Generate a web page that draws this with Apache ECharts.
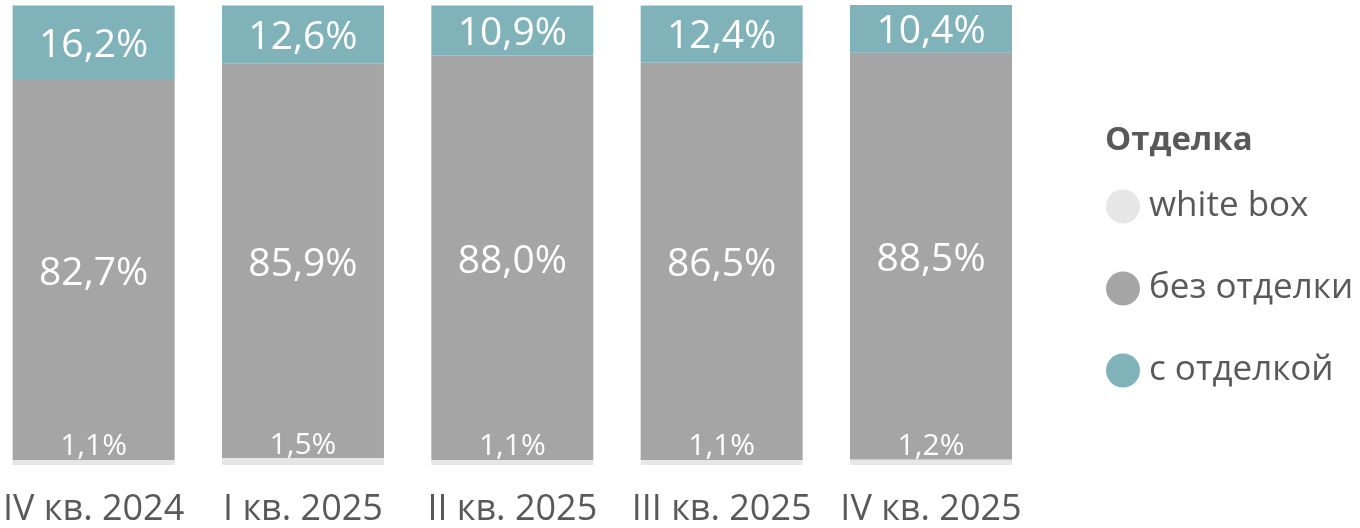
<!DOCTYPE html>
<html><head><meta charset="utf-8">
<script src="https://cdn.jsdelivr.net/npm/echarts@6/dist/echarts.min.js"></script>
<style>html,body{margin:0;padding:0;background:#fff}#c{width:1360px;height:528px}</style>
</head><body><div id="c"></div>
<script>
const categories = ['IV кв. 2024', 'I кв. 2025', 'II кв. 2025', 'III кв. 2025', 'IV кв. 2025'];
const whiteBox = [1.1, 1.5, 1.1, 1.1, 1.2];
const noFinish = [82.7, 85.9, 88.0, 86.5, 88.5];
const withFinish = [16.2, 12.6, 10.9, 12.4, 10.4];
const seriesNames = ['white box', 'без отделки', 'с отделкой'];
const legendTitle = 'Отделка';

const FONT = 'Open Sans';
const fmt = p => p.value.toFixed(1).replace('.', ',') + '%';
const chart = echarts.init(document.getElementById('c'));
chart.setOption({
  animation: false,
  textStyle: { fontFamily: FONT },
  grid: { left: 90, width: 841, top: 5, bottom: 62 },
  xAxis: {
    type: 'category', data: categories, boundaryGap: false,
    axisLine: { show: false }, axisTick: { show: false },
    axisLabel: { color: '#595959', fontSize: 36, fontFamily: FONT, margin: 27, interval: 0 }
  },
  yAxis: { type: 'value', min: 0, max: 'dataMax', show: false, splitLine: { show: false } },
  legend: {
    orient: 'vertical', left: 1101, top: 184,
    icon: 'circle', itemWidth: 34, itemHeight: 34, itemGap: 47,
    textStyle: { color: '#595959', fontSize: 35, fontFamily: FONT, padding: [0, 0, 0, 4] },
    data: seriesNames
  },
  graphic: [{
    type: 'text', left: 1105, top: 124,
    style: { text: legendTitle, fill: '#595959', font: 'bold 33px "Open Sans"' }
  }],
  series: [
    { name: seriesNames[0], type: 'bar', stack: 's', data: whiteBox, barWidth: 162,
      itemStyle: { color: '#e6e6e6' },
      label: { show: true, position: 'top', distance: -2, color: '#fff', fontSize: 30, fontFamily: FONT, formatter: fmt } },
    { name: seriesNames[1], type: 'bar', stack: 's', data: noFinish, barWidth: 162,
      itemStyle: { color: '#a5a5a5' },
      label: { show: true, position: 'inside', offset: [0, 4], color: '#fff', fontSize: 39, fontFamily: FONT, formatter: fmt } },
    { name: seriesNames[2], type: 'bar', stack: 's', data: withFinish, barWidth: 162,
      itemStyle: { color: '#7fb3b9' },
      label: { show: true, position: 'inside', offset: [0, 3], color: '#fff', fontSize: 39, fontFamily: FONT, formatter: fmt } }
  ]
});
</script></body></html>
